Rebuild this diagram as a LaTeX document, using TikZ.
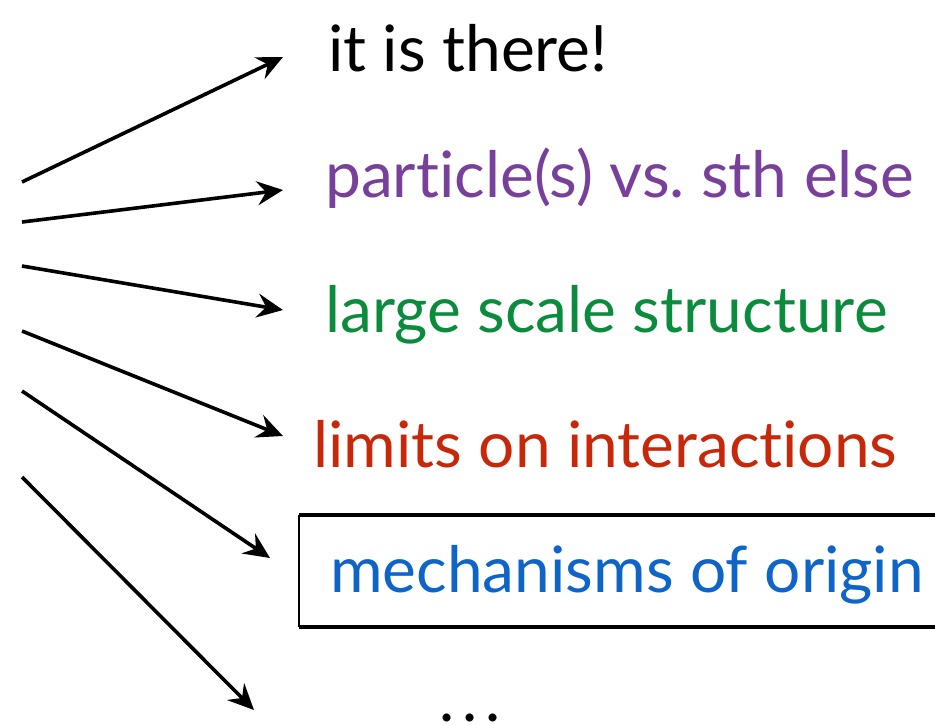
\documentclass[tikz,border=0pt]{standalone}
\usepackage{fontspec}
\setmainfont{Lato}[Ligatures={NoCommon}]
\usetikzlibrary{arrows.meta}
\definecolor{cpurple}{RGB}{120,64,155}
\definecolor{cgreen}{RGB}{10,140,60}
\definecolor{cred}{RGB}{200,40,10}
\definecolor{cblue}{RGB}{15,100,200}
\tikzset{
  lbl/.style={anchor=base west, inner sep=0pt, font=\fontsize{64}{70}\selectfont},
  arr/.style={line width=3.6pt, -{Stealth[length=26pt,width=24pt,inset=9pt]}},
}
\begin{document}
\frenchspacing
\begin{tikzpicture}[x=1pt,y=-1pt]
\useasboundingbox (0,0) rectangle (935,724);
\begin{scope}
\clip (0,0) rectangle (935,724);
% labels
\node[lbl, text=black] (t1) at (328,71) {it is there!};
\node[lbl, text=cpurple] (t2) at (325,197) {particle(s) vs. sth else};
\node[lbl, text=cgreen] (t3) at (325,332) {large scale structure};
\node[lbl, text=cred] (t4) at (313,467) {limits on interactions};
\node[lbl, text=cblue] (t5) at (330,592) {mechanisms of origin};
\node[lbl, text=black] (t6) at (439,721) {.\kern8pt.\kern8pt.};
% box
\coordinate (b1) at (299,515);
\coordinate (b2) at (960,627);
\draw[line width=1.2pt] (b1) -- (b1 |- b2);
\draw[line width=3.5pt] (b1) -- (b1 -| b2);
\draw[line width=3.5pt] (b1 |- b2) -- (b2);
% arrows
\coordinate (s1) at (22,182); \coordinate (e1) at (283,57);
\coordinate (s2) at (22,222); \coordinate (e2) at (283,190);
\coordinate (s3) at (22,266); \coordinate (e3) at (283,310);
\coordinate (s4) at (22,331); \coordinate (e4) at (283,436);
\coordinate (s5) at (22,391); \coordinate (e5) at (270,558);
\coordinate (s6) at (22,477); \coordinate (e6) at (254,710);
\foreach \i in {1,...,6} { \draw[arr] (s\i) -- (e\i); }
\end{scope}
\end{tikzpicture}
\end{document}
